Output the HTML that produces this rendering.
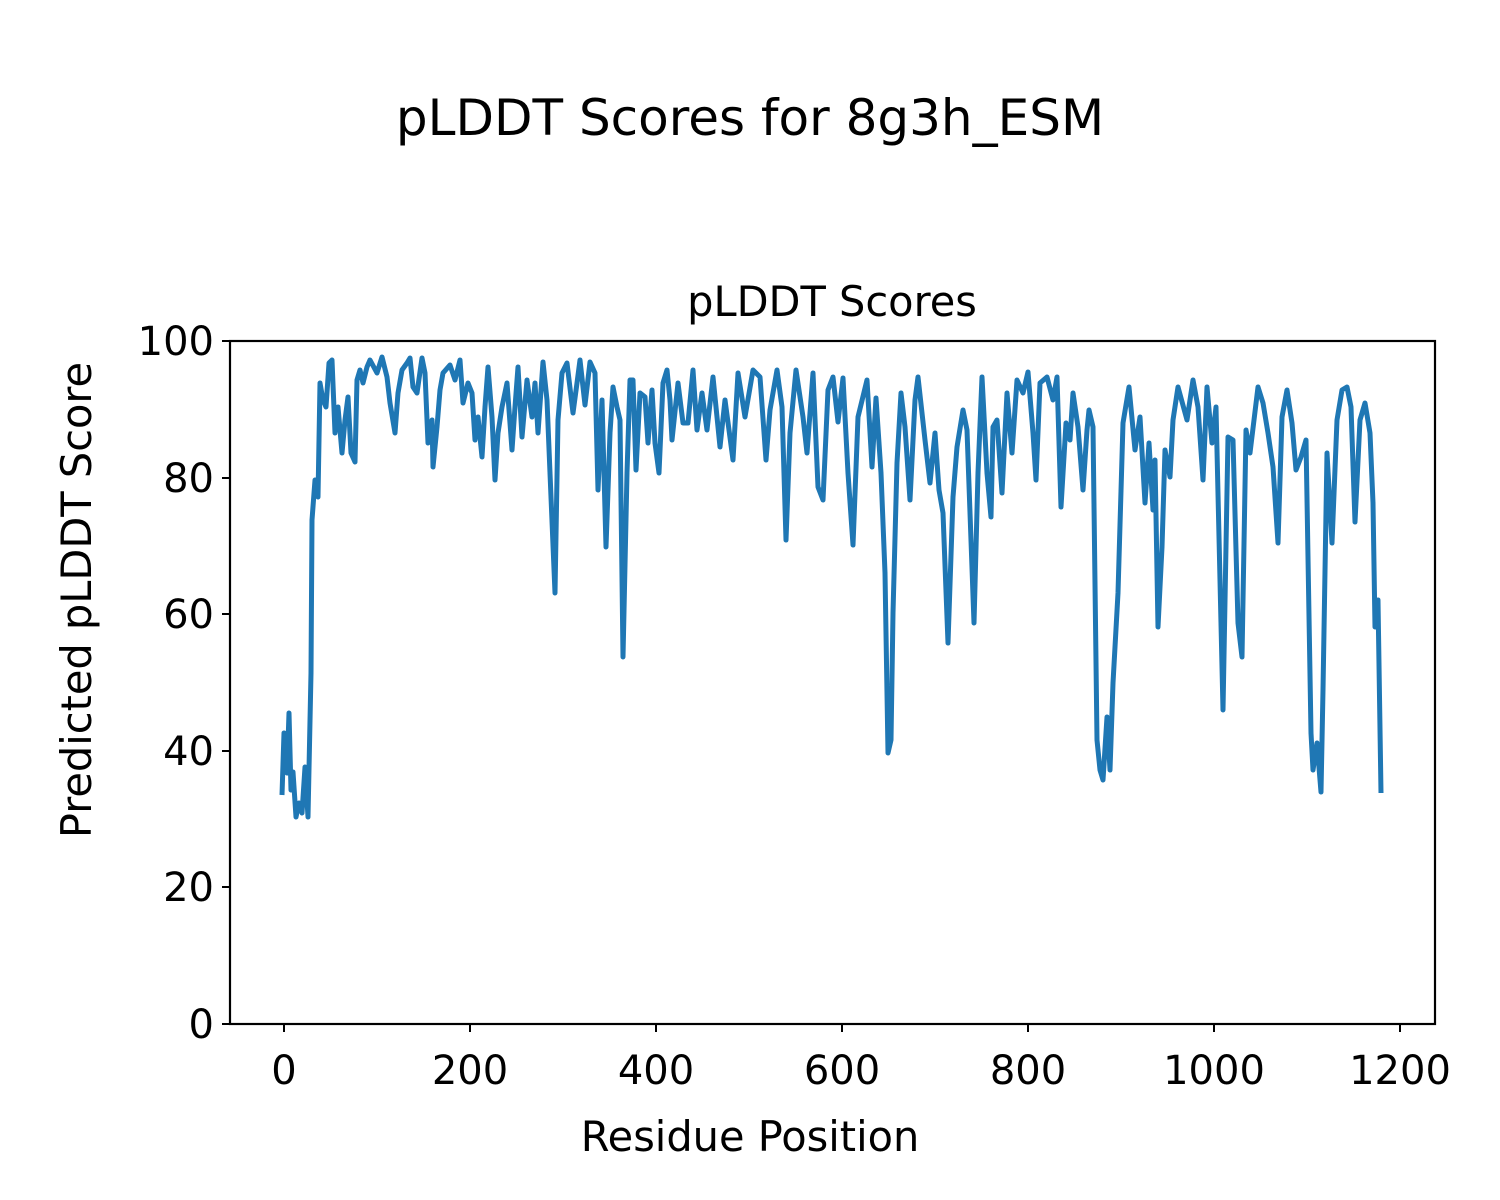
<!DOCTYPE html>
<html><head><meta charset="utf-8"><style>body{margin:0;background:#fff}svg{display:block}text{font-family:"DejaVu Sans","Liberation Sans",sans-serif;fill:#000}</style></head><body>
<svg width="1500" height="1200" viewBox="0 0 1500 1200" xmlns="http://www.w3.org/2000/svg">
<rect width="1500" height="1200" fill="#fff"/>
<text x="750" y="135" font-size="50" text-anchor="middle">pLDDT Scores for 8g3h_ESM</text>
<text x="832" y="316" font-size="41.5" text-anchor="middle">pLDDT Scores</text>
<polyline fill="none" stroke="#1f77b4" stroke-width="5" stroke-linejoin="round" points="282,795 284,733 287,773 289,713 291,790 293,772 296,817 299,803 302,813 305,767 308,817 311,673 312,520 315,480 318,497 320,383 323,400 326,407 329,363 332,360 335,433 338,407 342,453 345,420 348,397 351,453 355,462 357,380 360,370 363,383 367,367 370,360 377,373 382,357 387,377 390,403 395,433 398,393 402,370 407,363 410,358 413,387 417,393 422,358 425,373 428,443 432,420 433,467 437,427 440,390 443,373 450,365 455,380 460,360 463,403 468,383 472,393 475,440 478,417 482,457 485,407 488,367 492,417 495,480 498,433 502,407 507,383 512,450 515,407 518,367 522,437 527,380 532,417 535,383 538,433 543,362 547,400 550,473 555,593 558,420 562,373 567,363 573,413 577,383 580,360 585,405 590,362 595,373 598,490 602,400 606,547 610,433 613,387 617,407 620,420 623,657 627,473 630,380 633,380 636,470 640,393 645,397 648,443 652,390 655,443 659,473 663,383 667,370 670,400 672,440 678,383 683,423 688,423 693,370 697,430 702,393 707,430 713,377 720,447 725,400 733,460 738,373 745,417 753,370 760,377 766,460 770,410 777,370 782,407 786,540 790,433 796,370 803,417 807,453 813,373 818,487 823,500 828,390 833,377 838,422 843,378 848,473 853,545 858,417 867,380 872,467 876,398 881,473 885,573 888,753 891,740 893,613 897,463 901,393 905,427 910,500 915,400 918,377 925,440 930,483 935,433 939,490 943,513 948,643 953,497 957,447 963,410 967,430 974,623 978,473 982,377 987,473 991,517 993,427 997,420 1002,493 1007,393 1012,453 1017,380 1023,393 1028,372 1033,433 1036,480 1040,383 1047,377 1053,400 1057,377 1061,507 1066,423 1070,440 1073,393 1078,427 1083,490 1087,430 1089,410 1093,427 1097,740 1100,770 1103,780 1107,717 1110,770 1113,683 1118,593 1123,423 1129,387 1135,450 1140,417 1145,503 1149,443 1153,510 1155,460 1158,627 1162,547 1165,450 1170,477 1173,420 1178,387 1187,420 1193,380 1198,407 1203,480 1207,387 1212,443 1216,407 1223,710 1228,437 1233,440 1238,623 1242,657 1246,430 1250,453 1258,387 1263,403 1268,433 1273,467 1278,543 1282,417 1287,390 1292,423 1296,470 1301,457 1306,440 1311,733 1313,770 1317,743 1321,792 1323,690 1327,453 1332,543 1337,420 1342,390 1347,387 1351,407 1355,522 1360,420 1365,403 1370,433 1373,503 1375,627 1378,600 1381,793"/>
<rect x="230" y="341" width="1205" height="683" fill="none" stroke="#000" stroke-width="2.2"/>
<g stroke="#000" stroke-width="2">
<line x1="222" y1="1024" x2="230" y2="1024"/><line x1="222" y1="887" x2="230" y2="887"/><line x1="222" y1="751" x2="230" y2="751"/><line x1="222" y1="614" x2="230" y2="614"/><line x1="222" y1="478" x2="230" y2="478"/><line x1="222" y1="341" x2="230" y2="341"/>
<line x1="284" y1="1024" x2="284" y2="1032"/><line x1="470" y1="1024" x2="470" y2="1032"/><line x1="656" y1="1024" x2="656" y2="1032"/><line x1="842" y1="1024" x2="842" y2="1032"/><line x1="1028" y1="1024" x2="1028" y2="1032"/><line x1="1214" y1="1024" x2="1214" y2="1032"/><line x1="1400" y1="1024" x2="1400" y2="1032"/>
</g>
<g font-size="40" text-anchor="end">
<text x="214" y="1038">0</text><text x="214" y="901">20</text><text x="214" y="765">40</text><text x="214" y="628">60</text><text x="214" y="492">80</text><text x="214" y="355">100</text>
</g>
<g font-size="40" text-anchor="middle">
<text x="284" y="1084">0</text><text x="470" y="1084">200</text><text x="656" y="1084">400</text><text x="842" y="1084">600</text><text x="1028" y="1084">800</text><text x="1214" y="1084">1000</text><text x="1400" y="1084">1200</text>
</g>
<text x="750" y="1151" font-size="41.5" text-anchor="middle">Residue Position</text>
<text transform="translate(91,600) rotate(-90)" font-size="41.5" text-anchor="middle">Predicted pLDDT Score</text>
</svg>
</body></html>
